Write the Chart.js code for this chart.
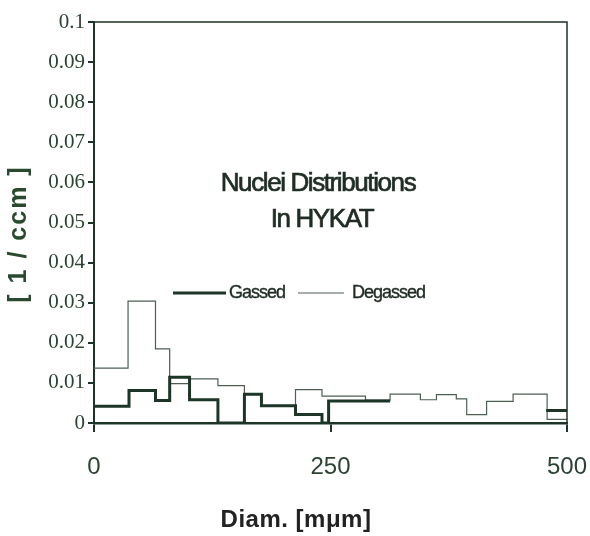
<!DOCTYPE html>
<html>
<head>
<meta charset="utf-8">
<script src="https://cdn.jsdelivr.net/npm/chart.js@4/dist/chart.umd.min.js"></script>
<style>
  html, body { margin: 0; padding: 0; background: #fff; }
  #wrap { width: 590px; height: 536px; }
</style>
</head>
<body>
<div id="wrap"><canvas id="nuclei"></canvas></div>
<script>
// bin edges (diameter) and concentration per bin
var gassedEdges = [0, 37, 65, 80, 101, 131, 159, 177, 213, 241, 248, 313, 478, 500];
var gassedValues = [0.0042, 0.0081, 0.0056, 0.0114, 0.0058, 0, 0.0072, 0.0043, 0.0021, 0, 0.0055, null, 0.0031];

var degassedEdges = [0, 36, 65, 80, 101, 131, 159, 177, 213, 241, 287, 313, 345, 362, 383, 394, 415, 443, 479, 500];
var degassedValues = [0.0137, 0.0304, 0.0185, 0.0098, 0.011, 0.0093, 0.0072, 0.0043, 0.0083, 0.0067,
                      0.0057, 0.0072, 0.0058, 0.0071, 0.0060, 0.0021, 0.0054, 0.0072, 0.0009];

var xTicks = [0, 250, 500];
var yTicks = [0, 0.01, 0.02, 0.03, 0.04, 0.05, 0.06, 0.07, 0.08, 0.09, 0.1];

var ink = '#1d3527';

// turn bins into histogram outline points (two per bin, gap where value is null)
function binPoints(edges, values) {
  var pts = [];
  for (var i = 0; i < values.length; i++) {
    pts.push({x: edges[i], y: values[i]});
    pts.push({x: edges[i + 1], y: values[i]});
  }
  return pts;
}

function heavyText(c, s, x, y) {
  c.fillText(s, x, y);
  c.strokeText(s, x, y);
}

var textPlugin = {
  id: 'nucleiText',
  afterDraw: function (chart) {
    var c = chart.ctx, a = chart.chartArea;
    c.save();
    // frame top and right
    c.strokeStyle = ink;
    c.lineWidth = 1.5;
    c.beginPath();
    c.moveTo(a.left - 6, a.top);
    c.lineTo(a.right, a.top);
    c.lineTo(a.right, a.bottom);
    c.stroke();

    c.fillStyle = '#1f2d24';
    c.strokeStyle = '#1f2d24';
    c.lineWidth = 0.7;
    c.textAlign = 'center';
    c.textBaseline = 'middle';
    c.font = '26px "Liberation Sans", Arial, sans-serif';
    c.letterSpacing = '-1.4px';
    heavyText(c, 'Nuclei Distributions', 318, 184);
    heavyText(c, 'In HYKAT', 322, 220);

    // legend
    var ds = chart.data.datasets;
    c.font = '18px "Liberation Sans", Arial, sans-serif';
    c.letterSpacing = '-1px';
    c.textAlign = 'left';
    c.lineWidth = 0.4;
    c.strokeStyle = '#1f2d24';
    heavyText(c, ds[0].label, 229, 293);
    heavyText(c, ds[1].label, 352, 293);
    c.strokeStyle = ds[0].borderColor;
    c.lineWidth = ds[0].borderWidth;
    c.beginPath(); c.moveTo(173, 293); c.lineTo(226, 293); c.stroke();
    c.strokeStyle = ds[1].borderColor;
    c.lineWidth = ds[1].borderWidth;
    c.beginPath(); c.moveTo(298, 293); c.lineTo(344, 293); c.stroke();

    // axis titles
    c.fillStyle = '#222';
    c.textAlign = 'center';
    c.letterSpacing = '0.5px';
    c.font = 'bold 24px "Liberation Sans", Arial, sans-serif';
    c.fillText('Diam. [m\u03BCm]', 296, 520);
    c.fillStyle = '#2a4a30';
    c.translate(19, 234);
    c.rotate(-Math.PI / 2);
    c.letterSpacing = '2px';
    c.font = 'bold 25px "Liberation Sans", Arial, sans-serif';
    c.fillText('[ 1 / ccm ]', 0, 0);
    c.restore();
  }
};

new Chart(document.getElementById('nuclei'), {
  type: 'line',
  data: {
    datasets: [{
      label: 'Gassed',
      data: binPoints(gassedEdges, gassedValues),
      borderColor: ink,
      borderWidth: 3,
      pointRadius: 0,
      spanGaps: false,
      order: 0
    }, {
      label: 'Degassed',
      data: binPoints(degassedEdges, degassedValues),
      borderColor: '#4d5f53',
      borderWidth: 1.2,
      pointRadius: 0,
      spanGaps: false,
      order: 1
    }]
  },
  options: {
    responsive: true,
    maintainAspectRatio: false,
    animation: false,
    layout: { padding: { left: 0, right: 23, top: 22, bottom: 0 } },
    plugins: { legend: { display: false }, tooltip: { enabled: false } },
    scales: {
      x: {
        type: 'linear',
        min: 0, max: 500,
        afterBuildTicks: function (s) { s.ticks = xTicks.map(function (v) { return {value: v}; }); },
        afterFit: function (s) { s.height = 113; s.paddingLeft = 0; s.paddingRight = 0; },
        grid: { drawOnChartArea: false, drawTicks: true, tickLength: 9, color: ink, lineWidth: 2 },
        border: { color: ink, width: 2.5 },
        ticks: {
          color: '#2c4334',
          padding: 21,
          maxRotation: 0,
          font: { family: '"Liberation Sans", Arial, sans-serif', size: 24 }
        }
      },
      y: {
        min: 0, max: 0.1,
        afterBuildTicks: function (s) { s.ticks = yTicks.map(function (v) { return {value: v}; }); },
        afterFit: function (s) { s.width = 94; s.paddingTop = 0; s.paddingBottom = 0; },
        grid: { drawOnChartArea: false, drawTicks: true, tickLength: 6, color: ink, lineWidth: 2 },
        border: { color: ink, width: 2 },
        ticks: {
          color: '#2c4334',
          padding: 3,
          font: { family: '"Liberation Serif", "Times New Roman", serif', size: 21 },
          callback: function (v) { return String(Number(v.toFixed(2))); }
        }
      }
    }
  },
  plugins: [textPlugin]
});
</script>
</body>
</html>
